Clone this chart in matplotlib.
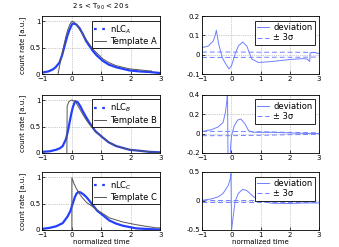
import matplotlib
matplotlib.use("Agg")
import matplotlib.pyplot as plt
from matplotlib.lines import Line2D

# --- curvas ---
# panel A
t_nlc_A = [-1, -0.8, -0.64, -0.55, -0.42, -0.33, -0.25, -0.15, -0.08, 0, 0.05, 0.15, 0.26, 0.37, 0.48, 0.6, 0.71, 0.85, 1.05, 1.25, 1.5, 1.95, 2.3, 2.63, 3.0]
nlc_A = [0.03, 0.05, 0.09, 0.13, 0.22, 0.36, 0.53, 0.73, 0.84, 0.94, 0.96, 0.94, 0.87, 0.76, 0.63, 0.53, 0.44, 0.35, 0.25, 0.18, 0.13, 0.07, 0.05, 0.04, 0.02]
t_tpl_A = [-0.47, -0.4, -0.3, -0.2, -0.14, -0.07, 0, 0.07, 0.15, 0.3, 0.48, 0.7, 1.05, 1.25, 1.5, 1.95, 2.3, 2.63, 2.7]
tpl_A = [0.0, 0.2, 0.47, 0.72, 0.84, 0.94, 1.0, 0.99, 0.94, 0.82, 0.66, 0.48, 0.29, 0.22, 0.16, 0.10, 0.08, 0.06, 0.06]
t_dev_A = [-1, -0.79, -0.62, -0.56, -0.51, -0.47, -0.43, -0.31, -0.22, -0.08, 0.01, 0.13, 0.24, 0.39, 0.53, 0.7, 0.93, 1.39, 1.97, 2.43, 2.6, 2.68, 2.7, 2.85, 3.0]
dev_A = [0.037, 0.045, 0.07, 0.095, 0.127, 0.09, 0.055, -0.014, -0.04, -0.073, -0.056, 0.003, 0.045, 0.066, 0.045, -0.022, -0.04, -0.035, -0.025, -0.02, -0.022, -0.035, 0.01, 0.012, 0.005]
t_sig_A = [-1, 0, 1, 2, 3]
sig_A = [0.014, 0.014, 0.013, 0.013, 0.012]

# panel B
t_nlc_B = [-1, -0.75, -0.53, -0.4, -0.31, -0.2, -0.14, -0.08, -0.02, 0.03, 0.11, 0.2, 0.28, 0.37, 0.48, 0.6, 0.8, 1.05, 1.25, 1.5, 1.95, 2.3, 2.63, 3.0]
nlc_B = [0.02, 0.03, 0.06, 0.09, 0.13, 0.26, 0.4, 0.57, 0.74, 0.86, 0.98, 0.96, 0.89, 0.79, 0.68, 0.57, 0.41, 0.29, 0.2, 0.13, 0.06, 0.04, 0.02, 0.01]
t_tpl_B = [-0.17, -0.16, -0.1, -0.03, 0.05, 0.14, 0.25, 0.37, 0.48, 0.6, 0.8, 1.05, 1.25, 1.5, 1.95, 2.3, 2.63, 3.0]
tpl_B = [0.0, 0.89, 0.97, 1.0, 0.99, 0.95, 0.85, 0.73, 0.63, 0.54, 0.4, 0.29, 0.2, 0.13, 0.06, 0.04, 0.02, 0.01]
t_dev_B = [-1, -0.68, -0.45, -0.28, -0.2, -0.15, -0.13, -0.11, -0.05, -0.02, 0.01, 0.1, 0.22, 0.33, 0.47, 0.59, 0.76, 1.39, 2.31, 3.0]
dev_B = [0.02, 0.04, 0.068, 0.115, 0.22, 0.34, 0.45, -0.35, -0.3, -0.12, -0.02, 0.08, 0.14, 0.15, 0.1, 0.03, 0.013, 0.013, 0.003, 0.0]
t_sig_B = [-1, 0, 1, 2, 3]
sig_B = [0.022, 0.022, 0.018, 0.012, 0.008]

# panel C
t_nlc_C = [-1, -0.75, -0.53, -0.31, -0.14, -0.05, 0, 0.1, 0.16, 0.22, 0.3, 0.4, 0.48, 0.6, 0.71, 0.85, 1.05, 1.27, 1.5, 1.73, 2.18, 2.5, 2.86, 3.0]
nlc_C = [0.02, 0.04, 0.07, 0.13, 0.26, 0.36, 0.45, 0.62, 0.69, 0.72, 0.71, 0.67, 0.63, 0.55, 0.47, 0.37, 0.28, 0.18, 0.12, 0.08, 0.03, 0.02, 0.01, 0.01]
t_tpl_C = [0.0, 0.0, 0.07, 0.15, 0.25, 0.37, 0.5, 0.71, 0.9, 1.05, 1.27, 1.5, 1.73, 2.18, 2.5, 2.86, 3.0]
tpl_C = [0.0, 0.99, 0.88, 0.79, 0.69, 0.6, 0.52, 0.44, 0.36, 0.31, 0.23, 0.19, 0.15, 0.10, 0.07, 0.04, 0.04]
t_dev_C = [-1, -0.68, -0.45, -0.28, -0.1, -0.04, -0.01, 0.01, 0.06, 0.13, 0.24, 0.39, 0.53, 0.7, 0.93, 1.39, 1.97, 2.54, 3.0]
dev_C = [0.01, 0.035, 0.07, 0.13, 0.27, 0.37, 0.47, -0.5, -0.29, -0.01, 0.13, 0.2, 0.18, 0.1, 0.005, -0.04, -0.045, -0.035, -0.035]
t_sig_C = [-1, 0, 1, 2, 3]
sig_C = [0.02, 0.02, 0.02, 0.02, 0.02]

letras = ["A", "B", "C"]
ylims_dev = [(-0.1, 0.2), (-0.2, 0.4), (-0.5, 0.5)]
yticks_dev = [[-0.1, 0, 0.1, 0.2], [-0.2, 0, 0.2, 0.4], [-0.5, 0, 0.5]]

paneles = [
    (t_nlc_A, nlc_A, t_tpl_A, tpl_A, t_dev_A, dev_A, t_sig_A, sig_A),
    (t_nlc_B, nlc_B, t_tpl_B, tpl_B, t_dev_B, dev_B, t_sig_B, sig_B),
    (t_nlc_C, nlc_C, t_tpl_C, tpl_C, t_dev_C, dev_C, t_sig_C, sig_C),
]

azul = "#2440ff"
azul_claro = "#6f80ff"
gris = "#555555"

fig = plt.figure(figsize=(3.39, 2.47), dpi=100)
bottoms = [0.700, 0.381, 0.069]


def estilo(ax):
    ax.set_xlim(-1, 3)
    ax.set_xticks([-1, 0, 1, 2, 3])
    ax.tick_params(direction="in", length=2, width=0.5, labelsize=5, pad=1.5)
    ax.grid(True, linestyle=":", color="#999999", linewidth=0.5)
    for s in ax.spines.values():
        s.set_linewidth(0.6)


def leyenda(ax, h, etiquetas, x0):
    leg = ax.legend(h, etiquetas, loc="upper left", bbox_to_anchor=(x0, 0.92),
                    fontsize=6, fancybox=False, edgecolor="black", framealpha=1,
                    handlelength=1.4, handletextpad=0.5, borderpad=0.3,
                    labelspacing=0.15, borderaxespad=0)
    leg.get_frame().set_linewidth(0.6)


for i, (tn, n, tt, tp, td, d, ts, sg) in enumerate(paneles):
    L = letras[i]
    ax = fig.add_axes([0.125, bottoms[i], 0.348, 0.235])
    estilo(ax)
    ax.plot(tn, n, color=azul, lw=1.6)
    ax.plot(tt, tp, color=gris, lw=0.7)
    ax.set_ylim(0, 1.1)
    ax.set_yticks([0, 0.5, 1])
    ax.set_yticklabels(["0", "0.5", "1"])
    ax.set_ylabel("count rate [a.u.]", fontsize=5, labelpad=2)
    h = [Line2D([], [], color=azul, lw=1.6, linestyle=(0, (1.2, 2.5))),
         Line2D([], [], color=gris, lw=0.7)]
    leyenda(ax, h, ["nLC$_{%s}$" % L, "Template %s" % L], 0.42)
    if i == 0:
        ax.set_title("2 s < T$_{90}$ < 20 s", fontsize=5, pad=5)
    if i == 2:
        ax.set_xlabel("normalized time", fontsize=5, labelpad=1)

    ax2 = fig.add_axes([0.596, bottoms[i], 0.345, 0.235])
    estilo(ax2)
    ax2.plot(td, d, color=azul_claro, lw=0.7)
    ax2.plot(ts, sg, color=azul_claro, lw=0.7, linestyle=(0, (5, 3)))
    ax2.plot(ts, [-v for v in sg], color=azul_claro, lw=0.7, linestyle=(0, (5, 3)))
    ax2.set_ylim(*ylims_dev[i])
    ax2.set_yticks(yticks_dev[i])
    ax2.set_yticklabels([("%g" % v) for v in yticks_dev[i]])
    h2 = [Line2D([], [], color=azul_claro, lw=0.7),
          Line2D([], [], color=azul_claro, lw=0.7, linestyle=(0, (5, 3)))]
    leyenda(ax2, h2, ["deviation", "± 3σ"], 0.45)
    if i == 2:
        ax2.set_xlabel("normalized time", fontsize=5, labelpad=1)

fig.savefig("out.png", dpi=100)
